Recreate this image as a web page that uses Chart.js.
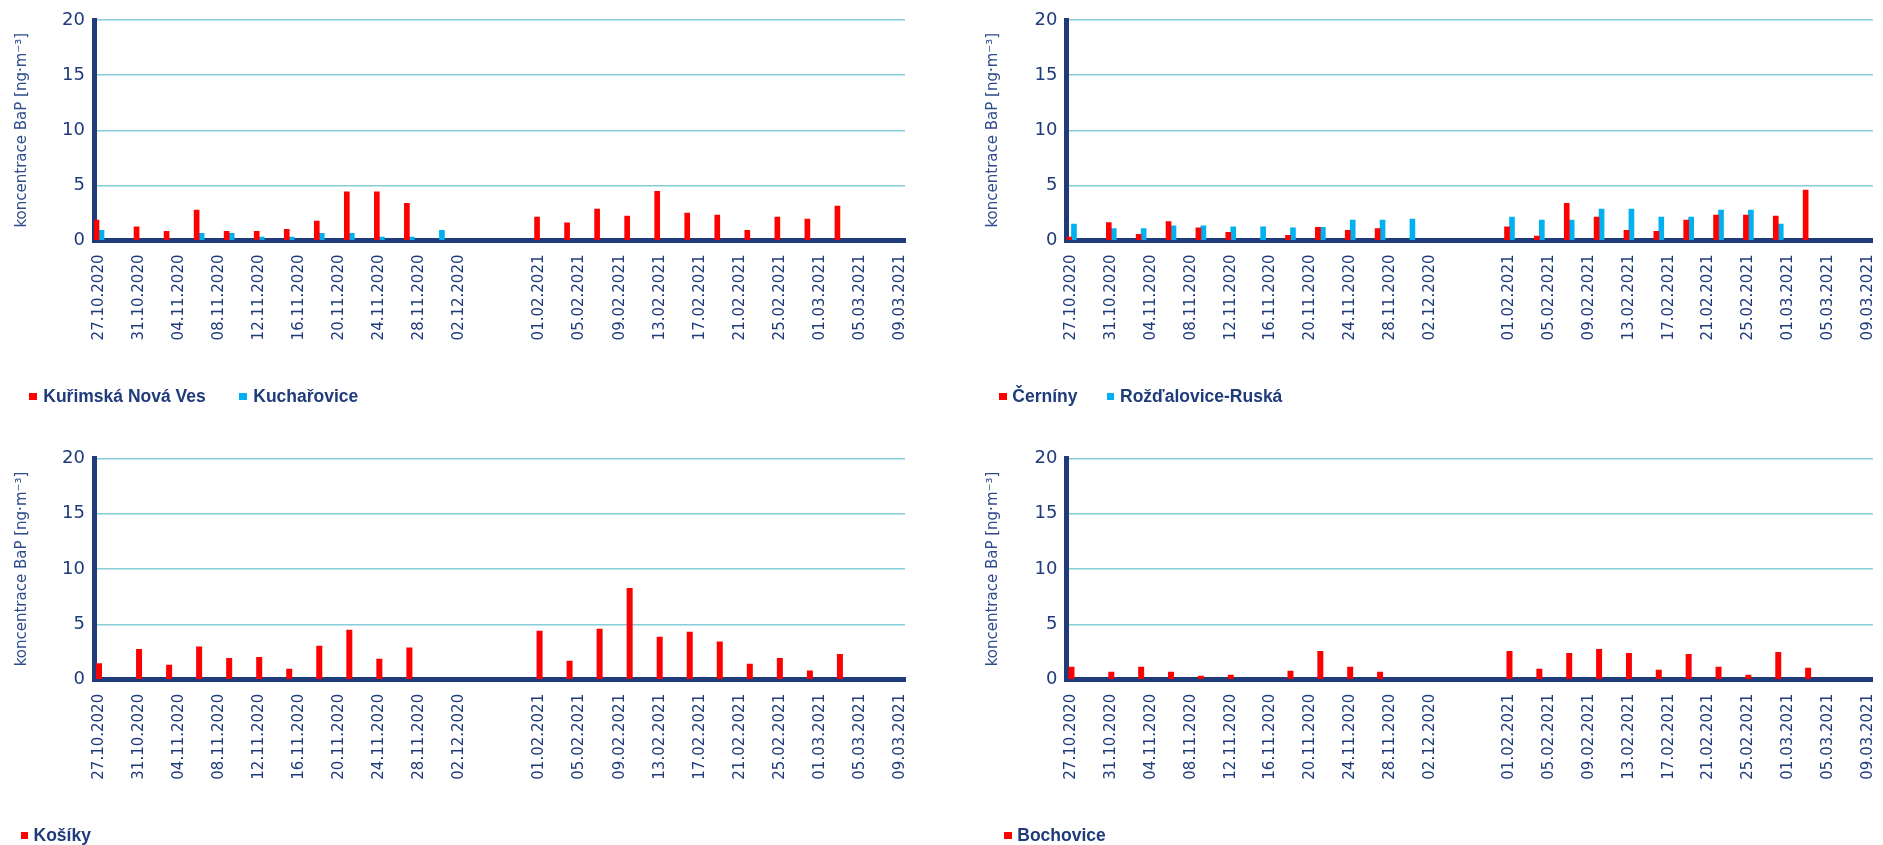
<!DOCTYPE html>
<html lang="cs">
<head>
<meta charset="utf-8">
<title>Koncentrace BaP – denní hodnoty</title>
<script src="https://cdn.jsdelivr.net/npm/chart.js@4.4.1/dist/chart.umd.min.js"></script>
<style>
  html, body { margin: 0; padding: 0; background: #ffffff; overflow: hidden; }
  body { width: 1883px; height: 845px; position: relative; }
  canvas { position: absolute; }
  .legend-box { position: absolute; width: 7.5px; height: 7.5px; }
  .legend-text {
    position: absolute;
    font: bold 17.5px "Liberation Sans", Arial, sans-serif;
    line-height: 20px;
    color: #1F3B7A;
    white-space: nowrap;
  }
</style>
</head>
<body>
<canvas id="c1" width="940" height="420" style="left:0px;top:0px"></canvas>
<canvas id="c2" width="960" height="420" style="left:940px;top:0px"></canvas>
<canvas id="c3" width="940" height="425" style="left:0px;top:420px"></canvas>
<canvas id="c4" width="960" height="425" style="left:940px;top:420px"></canvas>
<script>
// ---- Category axis: one slot per day, with a short blank break between the two campaigns ----
const autumnDays = [
  '27.10.2020', '28.10.2020', '29.10.2020', '30.10.2020', '31.10.2020',
  '01.11.2020', '02.11.2020', '03.11.2020', '04.11.2020', '05.11.2020', '06.11.2020',
  '07.11.2020', '08.11.2020', '09.11.2020', '10.11.2020', '11.11.2020', '12.11.2020',
  '13.11.2020', '14.11.2020', '15.11.2020', '16.11.2020', '17.11.2020', '18.11.2020',
  '19.11.2020', '20.11.2020', '21.11.2020', '22.11.2020', '23.11.2020', '24.11.2020',
  '25.11.2020', '26.11.2020', '27.11.2020', '28.11.2020', '29.11.2020', '30.11.2020',
  '01.12.2020', '02.12.2020'
];
const gapDays = ['', '', '', '', '', '', ''];
const springDays = [
  '01.02.2021', '02.02.2021', '03.02.2021', '04.02.2021', '05.02.2021', '06.02.2021',
  '07.02.2021', '08.02.2021', '09.02.2021', '10.02.2021', '11.02.2021', '12.02.2021',
  '13.02.2021', '14.02.2021', '15.02.2021', '16.02.2021', '17.02.2021', '18.02.2021',
  '19.02.2021', '20.02.2021', '21.02.2021', '22.02.2021', '23.02.2021', '24.02.2021',
  '25.02.2021', '26.02.2021', '27.02.2021', '28.02.2021',
  '01.03.2021', '02.03.2021', '03.03.2021', '04.03.2021', '05.03.2021', '06.03.2021',
  '07.03.2021', '08.03.2021', '09.03.2021'
];
const categories = autumnDays.concat(gapDays, springDays);

// ---- Sampling days and measured BaP concentrations [ng·m-3] ----
const sampleDates = [
  '27.10.2020', '31.10.2020', '03.11.2020', '06.11.2020', '09.11.2020', '12.11.2020',
  '15.11.2020', '18.11.2020', '21.11.2020', '24.11.2020', '27.11.2020', '30.11.2020',
  '01.02.2021', '04.02.2021', '07.02.2021', '10.02.2021', '13.02.2021', '16.02.2021',
  '19.02.2021', '22.02.2021', '25.02.2021', '28.02.2021', '03.03.2021'
];
const kurimskaNovaVes = [1.86, 1.25, 0.83, 2.76, 0.83, 0.83, 1.01, 1.77, 4.42, 4.42, 3.37, null,
                         2.13, 1.61, 2.86, 2.22, 4.46, 2.49, 2.31, 0.92, 2.13, 1.95, 3.13];
const kucharovice     = [0.92, null, null, 0.65, 0.65, 0.32, 0.32, 0.65, 0.65, 0.32, 0.32, 0.92,
                         null, null, null, null, null, null, null, null, null, null, null];
const cerniny         = [0.30, 1.62, 0.56, 1.71, 1.16, 0.74, null, 0.47, 1.19, 0.92, 1.07, null,
                         1.25, 0.41, 3.37, 2.13, 0.92, 0.83, 1.86, 2.31, 2.31, 2.22, 4.58];
const rozdalovice     = [1.50, 1.07, 1.07, 1.34, 1.34, 1.25, 1.25, 1.16, 1.19, 1.86, 1.86, 1.95,
                         2.13, 1.86, 1.86, 2.85, 2.85, 2.13, 2.13, 2.76, 2.76, 1.50, null];
const kosiky          = [1.50, 2.77, 1.36, 3.01, 1.96, 2.05, 0.99, 3.07, 4.52, 1.90, 2.92, null,
                         4.43, 1.72, 4.61, 8.28, 3.89, 4.34, 3.46, 1.45, 1.96, 0.84, 2.32];
const bochovice       = [1.17, 0.72, 1.17, 0.72, 0.36, 0.45, null, 0.81, 2.59, 1.17, 0.72, null,
                         2.59, 0.99, 2.41, 2.77, 2.41, 0.90, 2.32, 1.17, 0.45, 2.50, 1.08];

const stationNames = ['Kuřimská Nová Ves', 'Kuchařovice', 'Černíny', 'Rožďalovice-Ruská', 'Košíky', 'Bochovice'];
const axisTitle = 'koncentrace BaP [ng·m⁻³]';

// ---- Styling ----
const RED = '#FF0000';
const BLUE = '#00B0F0';
const NAVY = '#1F3B7A';
const TITLE_COLOR = '#2E4B8B';
const GRID = '#86CCDA';
const X_AXIS_HEIGHT = 100;

// place sampled values on the daily axis
function onAxis(values) {
  const row = categories.map(() => null);
  sampleDates.forEach((d, i) => { row[categories.indexOf(d)] = values[i]; });
  return row;
}

const panels = [
  { id: 'c1', area: { left: 94, right: 905, top: 20, bottom: 240.5 }, titlePad: 13, catPct: 1.0,
    series: [ { name: stationNames[0], values: kurimskaNovaVes, color: RED },
              { name: stationNames[1], values: kucharovice, color: BLUE } ],
    legend: { boxTop: 392.7, textTop: 385.6, items: [ { box: 29.3, text: 43.3 }, { box: 239.3, text: 253.3 } ] } },
  { id: 'c2', area: { left: 126.5, right: 938, top: 20, bottom: 240.5 }, titlePad: 44, catPct: 1.0,
    series: [ { name: stationNames[2], values: cerniny, color: RED },
              { name: stationNames[3], values: rozdalovice, color: BLUE } ],
    legend: { boxTop: 392.7, textTop: 385.6, items: [ { box: 999.3, text: 1012.3 }, { box: 1106.7, text: 1120 } ] } },
  { id: 'c3', area: { left: 94, right: 905, top: 38.3, bottom: 259.8 }, titlePad: 13, catPct: 0.6,
    series: [ { name: stationNames[4], values: kosiky, color: RED } ],
    legend: { boxTop: 831.7, textTop: 824.6, items: [ { box: 20.7, text: 33.5 } ] } },
  { id: 'c4', area: { left: 126.5, right: 938, top: 38.3, bottom: 259.8 }, titlePad: 44, catPct: 0.6,
    series: [ { name: stationNames[5], values: bochovice, color: RED } ],
    legend: { boxTop: 831.7, textTop: 824.6, items: [ { box: 1004, text: 1017.3 } ] } }
];

function drawLegend(p) {
  p.series.forEach((s, i) => {
    const pos = p.legend.items[i];
    const box = document.createElement('div');
    box.className = 'legend-box';
    box.style.left = pos.box + 'px';
    box.style.top = p.legend.boxTop + 'px';
    box.style.background = s.color;
    const txt = document.createElement('div');
    txt.className = 'legend-text';
    txt.style.left = pos.text + 'px';
    txt.style.top = p.legend.textTop + 'px';
    txt.textContent = s.name;
    document.body.appendChild(box);
    document.body.appendChild(txt);
  });
}

function makeChart(p) {
  const canvas = document.getElementById(p.id);
  const W = canvas.width, H = canvas.height;
  return new Chart(canvas, {
    type: 'bar',
    data: {
      labels: categories,
      datasets: p.series.map(s => ({
        label: s.name,
        data: onAxis(s.values),
        backgroundColor: s.color,
        borderWidth: 0,
        barPercentage: 1.0,
        categoryPercentage: p.catPct
      }))
    },
    options: {
      responsive: false,
      animation: false,
      devicePixelRatio: 1,
      layout: {
        padding: { left: 0, top: p.area.top, right: W - p.area.right, bottom: H - p.area.bottom - X_AXIS_HEIGHT }
      },
      plugins: { legend: { display: false }, tooltip: { enabled: false } },
      scales: {
        x: {
          z: 1,
          offset: true,
          grid: { display: true, drawOnChartArea: false, drawTicks: false },
          border: { display: true, color: NAVY, width: 5 },
          ticks: {
            autoSkip: false, minRotation: 90, maxRotation: 90, padding: 14,
            color: NAVY, font: { family: 'DejaVu Sans', size: 15 },
            callback: function (v, i) { return i % 4 === 0 ? this.getLabelForValue(v) : ''; }
          },
          afterFit: s => { s.height = X_AXIS_HEIGHT; }
        },
        y: {
          min: 0, max: 20,
          ticks: { stepSize: 5, padding: 9, color: NAVY, font: { family: 'DejaVu Sans', size: 18 } },
          grid: { color: GRID, lineWidth: 1.5, drawTicks: false },
          border: { display: true, color: NAVY, width: 5 },
          title: {
            display: true, text: axisTitle, color: TITLE_COLOR,
            font: { family: 'DejaVu Sans', size: 15 },
            padding: { top: p.titlePad, bottom: 0 }
          },
          afterFit: s => { s.width = p.area.left; }
        }
      }
    }
  });
}

panels.forEach(p => { makeChart(p); drawLegend(p); });
</script>
</body>
</html>
